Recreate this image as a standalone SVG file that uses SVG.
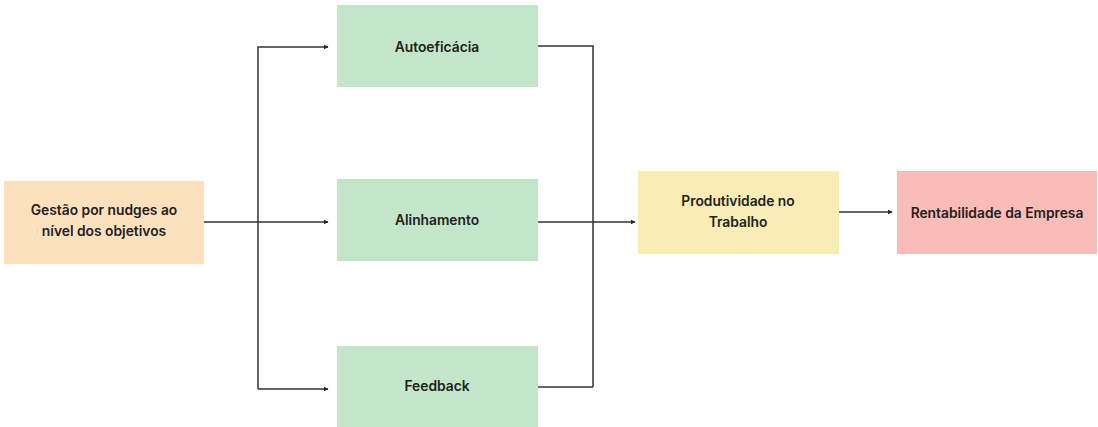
<svg xmlns="http://www.w3.org/2000/svg" width="1098" height="427" viewBox="0 0 1098 427">
<style>
.t{font-family:Inter,"Liberation Sans",sans-serif;font-weight:600;font-size:13.8px;fill:#222;text-anchor:middle;dominant-baseline:central}
.c{fill:none;stroke:#333;stroke-width:1.5}
</style>
<defs>
<marker id="a" viewBox="0 0 10 10" refX="9" refY="5" markerWidth="5" markerHeight="5" orient="auto" markerUnits="userSpaceOnUse"><path d="M0,0 L10,5 L0,10 z" fill="#222"/></marker>
</defs>
<rect width="1098" height="427" fill="#fff"/>
<g id="connectors">
<path class="c" d="M204,222 H328" marker-end="url(#a)"/>
<path class="c" d="M258,389 V47 H328" marker-end="url(#a)"/>
<path class="c" d="M258,389 H328" marker-end="url(#a)"/>
<path class="c" d="M538,46 H593 V387"/>
<path class="c" d="M538,387 H593"/>
<path class="c" d="M538,222 H635" marker-end="url(#a)"/>
<path class="c" d="M839,212 H892" marker-end="url(#a)"/>
</g>
<g id="gestao"><rect x="4" y="181" width="200" height="83" fill="#fde1be"/><text class="t" x="104" y="210">Gestão por nudges ao</text><text class="t" x="104" y="231">nível dos objetivos</text></g>
<g id="autoeficacia"><rect x="337" y="5" width="201" height="82" fill="#c3e6cb"/><text class="t" x="437" y="47">Autoeficácia</text></g>
<g id="alinhamento"><rect x="337" y="179" width="201" height="82" fill="#c3e6cb"/><text class="t" x="437" y="220">Alinhamento</text></g>
<g id="feedback"><rect x="337" y="346" width="201" height="81" fill="#c3e6cb"/><text class="t" x="437" y="386">Feedback</text></g>
<g id="produtividade"><rect x="638" y="171" width="201" height="83" fill="#f9edb5"/><text class="t" x="738" y="201">Produtividade no</text><text class="t" x="738" y="222">Trabalho</text></g>
<g id="rentabilidade"><rect x="897" y="171" width="200" height="83" fill="#f9bcb7"/><text class="t" x="997" y="213">Rentabilidade da Empresa</text></g>
</svg>
